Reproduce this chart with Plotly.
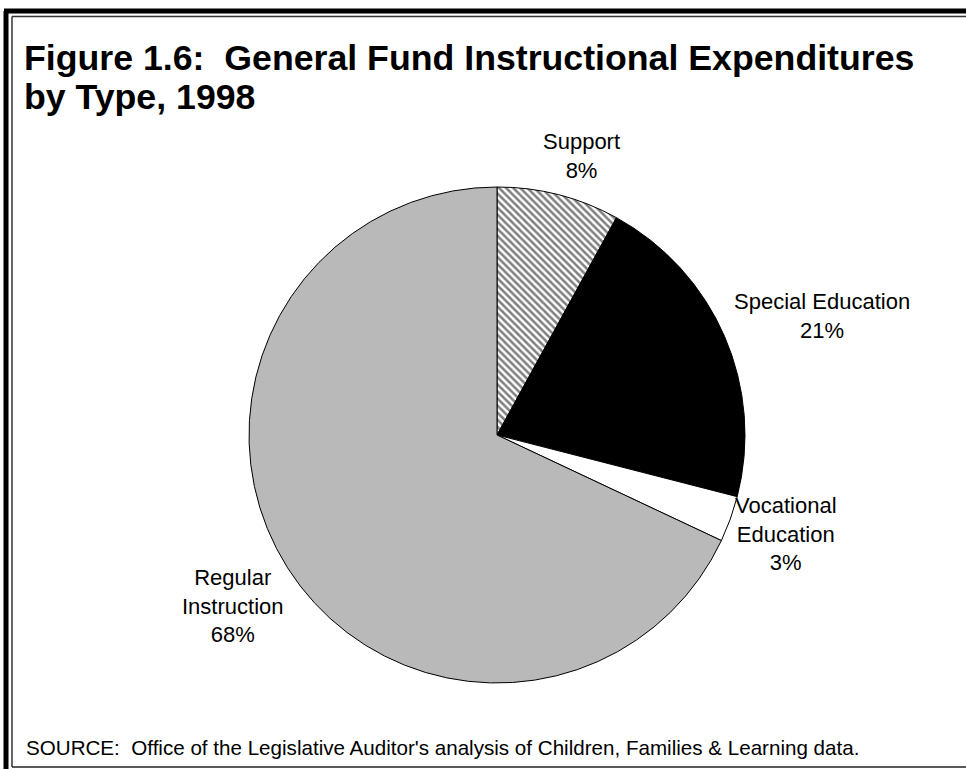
import plotly.graph_objects as go

# Expenditure shares by type (percent), clockwise from 12 o'clock
categories = ["Support", "Special Education", "Vocational Education", "Regular Instruction"]
shares = [8, 21, 3, 68]
label_text = ["Support", "Special Education", "Vocational<br>Education", "Regular<br>Instruction"]
title_lines = ["Figure 1.6:  General Fund Instructional Expenditures", "by Type, 1998"]
source_note = "SOURCE:  Office of the Legislative Auditor's analysis of Children, Families &amp; Learning data."

W, H = 966, 769
CX, CY, R = 497, 435, 248  # pie centre and radius in pixels

fig = go.Figure(go.Pie(
    labels=categories,
    values=shares,
    sort=False,
    direction="clockwise",
    rotation=0,
    textinfo="none",
    hoverinfo="label+percent",
    showlegend=False,
    marker=dict(
        colors=["white", "black", "white", "#b9b9b9"],
        line=dict(color="black", width=1),
        pattern=dict(
            shape=["\\", "", "", ""],
            fgcolor="black",
            bgcolor="white",
            size=5,
            solidity=0.5,
            fillmode="overlay",
        ),
    ),
    domain=dict(
        x=[(CX - R) / W, (CX + R) / W],
        y=[(H - CY - R) / H, (H - CY + R) / H],
    ),
))

# label anchor points (pixels)
label_pos = [(581, 156), (822, 316), (786, 534), (233, 606)]
annotations = []
for txt, v, (px, py) in zip(label_text, shares, label_pos):
    annotations.append(dict(
        x=px / W, y=1 - py / H, xref="paper", yref="paper",
        text=f"{txt}<br>{v}%", showarrow=False,
        xanchor="center", yanchor="middle", align="center",
        font=dict(family="Liberation Sans, Arial", size=22, color="black"),
    ))

# two-line bold heading, with tighter leading than the default
for line, py in zip(title_lines, [58, 97]):
    annotations.append(dict(
        x=22 / W, y=1 - py / H, xref="paper", yref="paper",
        text=f"<b>{line}</b>", showarrow=False,
        xanchor="left", yanchor="middle", align="left",
        font=dict(family="Liberation Sans, Arial", size=35.7, color="black"),
    ))

annotations.append(dict(
    x=24 / W, y=1 - 747 / H, xref="paper", yref="paper",
    text=source_note,
    showarrow=False, xanchor="left", yanchor="middle", align="left",
    font=dict(family="Liberation Sans, Arial", size=20.6, color="black"),
))

def px_line(x0, y0, x1, y1, width, color):
    return dict(type="line", xref="paper", yref="paper",
                x0=x0 / W, y0=1 - y0 / H, x1=x1 / W, y1=1 - y1 / H,
                line=dict(color=color, width=width))

shapes = [
    # heavy outer frame (left and top)
    px_line(6, H, 6, 11, 5, "black"),
    px_line(4, 11, W, 11, 5, "black"),
    # thin inner frame
    px_line(12, H - 2, 12, 16.5, 1.5, "#333333"),
    px_line(12, 16.5, W, 16.5, 1.5, "#333333"),
    px_line(12, H - 2, W, H - 2, 1.5, "#222222"),
]

fig.update_layout(
    width=W, height=H,
    margin=dict(l=0, r=0, t=0, b=0),
    paper_bgcolor="white",
    plot_bgcolor="white",
    annotations=annotations,
    shapes=shapes,
)

fig.write_html("out.html")
